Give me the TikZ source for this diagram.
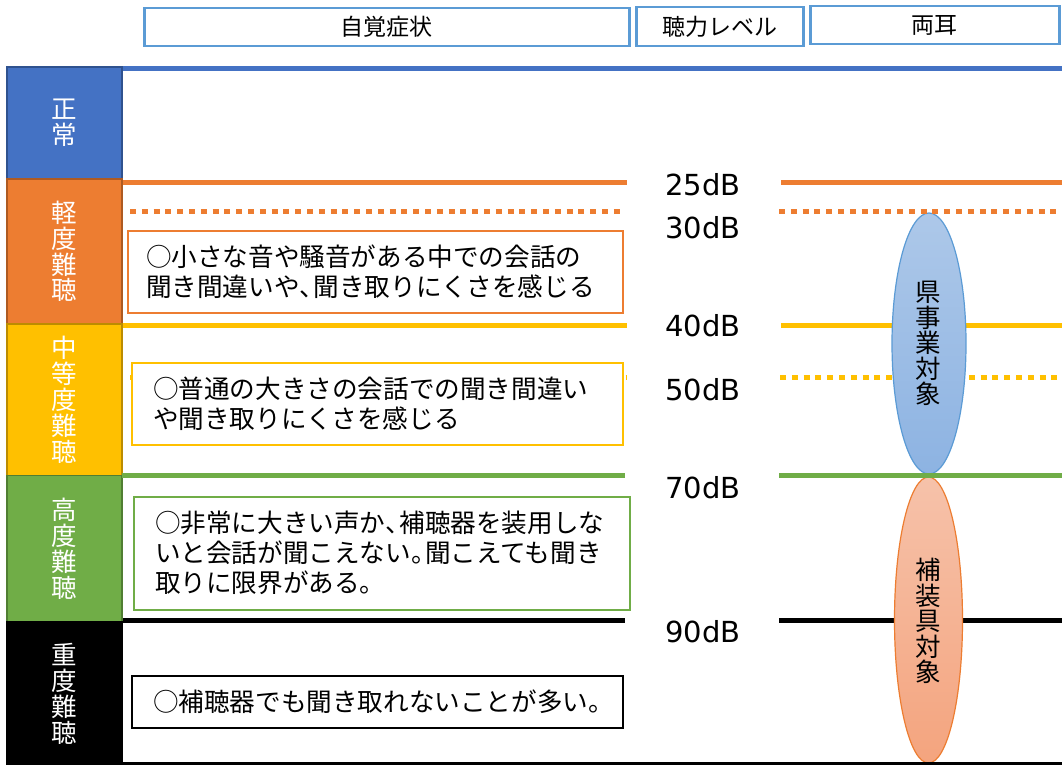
\documentclass[tikz,border=0pt]{standalone}
\usepackage{fontspec}
\newfontfamily\jpfont{Noto Sans CJK JP}
\newfontfamily\dbfont{DejaVu Sans}
\usetikzlibrary{shapes.geometric}
\newcommand\halftou{\makebox[0.55em][l]{、}}
\newcommand\halfmaru{\makebox[0.55em][l]{。}}
\definecolor{cBlue}{HTML}{4472C4}
\definecolor{cBlueD}{HTML}{2F528F}
\definecolor{cHdr}{HTML}{5B9BD5}
\definecolor{cOrg}{HTML}{ED7D31}
\definecolor{cOrgD}{HTML}{AE5A21}
\definecolor{cYel}{HTML}{FFC000}
\definecolor{cYelD}{HTML}{BC8C00}
\definecolor{cGrn}{HTML}{70AD47}
\definecolor{cGrnD}{HTML}{507E32}
\definecolor{cEllB1}{HTML}{ADC8E9}
\definecolor{cEllB2}{HTML}{8DB3E2}
\definecolor{cEllO1}{HTML}{F6C2AA}
\definecolor{cEllO2}{HTML}{F4A47E}
\begin{document}
\begin{tikzpicture}[x=1pt,y=-1pt,
  hdr/.style={draw=cHdr, line width=2.5pt, fill=white, inner sep=0pt,
    font=\jpfont\fontsize{23}{24}\selectfont, text=black},
  lvl/.style={line width=1.5pt, minimum width=115pt, inner sep=0pt, text=white,
    align=center, font=\jpfont\fontsize{25.5}{25.8}\selectfont},
  solidline/.style={line width=5pt},
  dotline/.style={line width=5pt, dash pattern=on 6pt off 5.8pt},
  tbox/.style={line width=2pt, fill=white, align=left, anchor=north west,
    inner ysep=0pt, font=\jpfont\fontsize{25.6}{30}\selectfont, text=black},
  dblabel/.style={font=\dbfont\fontsize{29}{30}\selectfont, text=black, inner sep=0pt},
  ell/.style={ellipse, line width=1.2pt, inner sep=0pt, align=center,
    font=\jpfont\fontsize{25.5}{25.6}\selectfont, text=black}
]
\useasboundingbox (0,0) rectangle (1062,765);
\fill[white] (0,0) rectangle (1062,765);

% header boxes
\node[hdr, minimum width=485pt, minimum height=38pt, anchor=north west] (h1) at (143,7) {自覚症状};
\node[hdr, minimum width=167pt, minimum height=39pt, anchor=north west] (h2) at (635,6) {聴力レベル};
\node[hdr, minimum width=249pt, minimum height=38pt, anchor=north west] (h3) at (809,5) {両耳};

% top blue line
\coordinate (tl) at (122,68.5);
\coordinate (tr) at (1062,68.5);
\draw[solidline, cBlue] (tl) -- (tr);

% level lines (left / right parts)
\draw[solidline, cOrg] (122,182) -- (627,182);
\draw[solidline, cOrg] (781,182) -- (1062,182);
\draw[solidline, cYel] (122,325) -- (627,325);
\draw[solidline, cYel] (781,325) -- (1062,325);
\draw[dotline, cYel] (130,377) -- (626,377);
\draw[dotline, cYel] (780,377) -- (1062,377);
\draw[solidline, black] (122,620.5) -- (625,620.5);
\draw[solidline, black] (779,620.5) -- (1062,620.5);

% left level column
\node[lvl, fill=cBlue, draw=cBlueD, minimum height=112pt] (n0) at (64.5,123) {正\\常};
\node[lvl, fill=cOrg, draw=cOrgD, minimum height=145pt] (n1) at (64.5,251.5) {軽\\度\\難\\聴};
\node[lvl, fill=cYel, draw=cYelD, minimum height=151.5pt] (n2) at (64.5,399.75) {中\\等\\度\\難\\聴};
\node[lvl, fill=cGrn, draw=cGrnD, minimum height=146.5pt] (n3) at (64.5,548.75) {高\\度\\難\\聴};
\node[lvl, fill=black, draw=black, minimum height=144pt] (n4) at (64.5,694) {重\\度\\難\\聴};

% symptom boxes
\node[tbox, draw=cOrg, text width=459pt, inner xsep=18pt, minimum height=82pt] (t1) at (127,230)
  {○小さな音や騒音がある中での会話の\\聞き間違いや\halftou 聞き取りにくさを感じる};
\node[tbox, draw=cYel, text width=449pt, inner xsep=21pt, minimum height=82pt] (t2) at (131,362)
  {\raisebox{-2pt}{○普通の大きさの会話での聞き間違い}\\\raisebox{-2pt}{や聞き取りにくさを感じる}};
\node[tbox, draw=cGrn, text width=454pt, inner xsep=21pt, minimum height=113pt] (t3) at (133,495.5)
  {○非常に大きい声か\halftou 補聴器を装用しな\\いと会話が聞こえない\halfmaru 聞こえても聞き\\取りに限界がある\halfmaru};
\node[tbox, draw=black, text width=449pt, inner xsep=21pt, minimum height=52pt] (t4) at (131,675)
  {\raisebox{-3pt}{○補聴器でも聞き取れないことが多い\halfmaru}};

% dB labels
\node[dblabel] (d25) at (703,185) {25dB};
\node[dblabel] (d30) at (703,228) {30dB};
\node[dblabel] (d40) at (703,326) {40dB};
\node[dblabel] (d50) at (703,390) {50dB};
\node[dblabel] (d70) at (703,488) {70dB};
\node[dblabel] (d90) at (703,632) {90dB};

% ellipses
\node[ell, draw=cHdr, top color=cEllB1, bottom color=cEllB2,
  minimum width=74pt, minimum height=261pt] (e1) at (929,343.5) {};
\node[ell] (e1t) at (928.5,343.5) {県\\事\\業\\対\\象};
\node[ell, draw=cOrg, top color=cEllO1, bottom color=cEllO2,
  minimum width=68pt, minimum height=286pt] (e2) at (928.5,620) {};
\node[ell] (e2t) at (928.5,621) {補\\装\\具\\対\\象};

% lines drawn over the ellipse tips
\draw[dotline, cOrg] (130,211.5) -- (624,211.5);
\draw[dotline, cOrg] (779,211.5) -- (1062,211.5);
\draw[solidline, cGrn] (122,475) -- (625,475);
\draw[solidline, cGrn] (779,475) -- (1062,475);
\draw[line width=3pt, black] (122,763.5) -- (1062,763.5);
\end{tikzpicture}
\end{document}
